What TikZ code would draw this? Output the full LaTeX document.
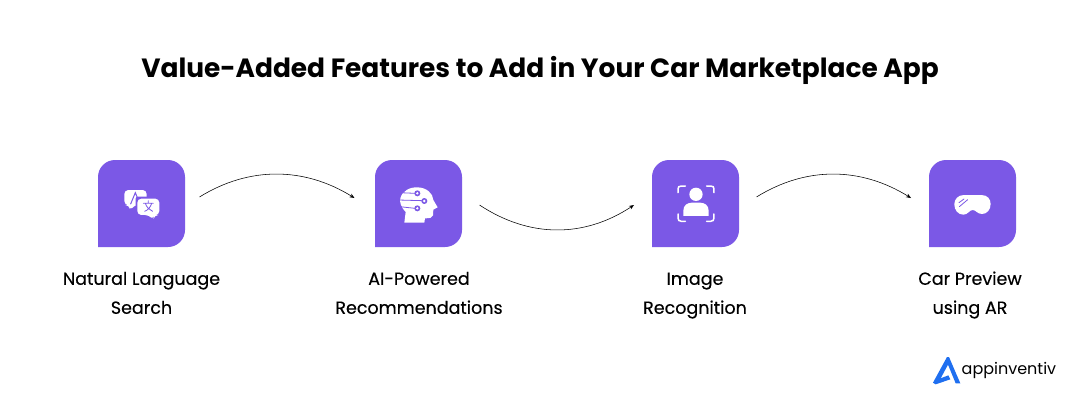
\documentclass[tikz,border=0pt]{standalone}
\usepackage{fontspec}
\setmainfont{Poppins}
\usetikzlibrary{arrows.meta}
\definecolor{brandpurple}{HTML}{7B58E6}
\definecolor{brandblue}{HTML}{1F6FF0}
\tikzset{
  x=1pt,y=-1pt,
  tile/.style={minimum size=87pt,inner sep=0pt,outer sep=0pt},
  lbl/.style={align=center,inner sep=0pt,font=\fontsize{17.5}{29}\selectfont\addfontfeature{FakeBold=0.3}},
  conn/.style={line width=0.55pt,-{Stealth[length=5pt,width=4pt]}},
  icon/.style={fill=white,draw=none},
  iconline/.style={draw=white,line width=1.5pt,line cap=round},
  cut/.style={draw=brandpurple,line width=0.8pt,line cap=round}
}
\newcommand{\tileshape}[1]{%
  \fill[brandpurple] (#1.south west) -- ([yshift=-17pt]#1.north west)
    .. controls ([yshift=-7.6pt]#1.north west) and ([xshift=7.6pt]#1.north west) .. ([xshift=17pt]#1.north west)
    -- ([xshift=-17pt]#1.north east)
    .. controls ([xshift=-7.6pt]#1.north east) and ([yshift=-7.6pt]#1.north east) .. ([yshift=-17pt]#1.north east)
    -- ([yshift=17pt]#1.south east)
    .. controls ([yshift=7.6pt]#1.south east) and ([xshift=-7.6pt]#1.south east) .. ([xshift=-17pt]#1.south east)
    -- cycle;}
\begin{document}
\begin{tikzpicture}
\useasboundingbox (0,0) rectangle (1080,408);
\fill[white] (0,0) rectangle (1080,408);
\node[inner sep=0pt,font=\fontsize{26.4}{32}\selectfont\bfseries] (title) at (540,70) {Value-Added Features to Add in Your Car Marketplace App};

\node[tile] (s1) at (141.5,203.5) {};
\node[tile] (s2) at (418.5,203.5) {};
\node[tile] (s3) at (695.5,203.5) {};
\node[tile] (s4) at (972.5,203.5) {};
\tileshape{s1}\tileshape{s2}\tileshape{s3}\tileshape{s4}

\node[lbl] (l1) at (141.5,293.5) {\strut Natural Language\\\strut Search};
\node[lbl] (l2) at (419,293.5) {\strut AI-Powered\\\strut Recommendations};
\node[lbl] (l3) at (695,293.5) {\strut Image\\\strut Recognition};
\node[lbl] (l4) at (970,293.5) {\strut Car Preview\\\strut using AR};

% connectors
\draw[conn] ([xshift=14.5pt,yshift=6.5pt]s1.east) .. controls +(50,-31) and +(-50,-31) .. ([xshift=-20.5pt,yshift=5.5pt]s2.west);
\draw[conn] ([xshift=17.5pt,yshift=-1.5pt]s2.east) .. controls +(50,33) and +(-50,33) .. ([xshift=-18pt,yshift=-1.5pt]s3.west);
\draw[conn] ([xshift=17.5pt,yshift=6.5pt]s3.east) .. controls +(50,-31) and +(-50,-31) .. ([xshift=-18pt,yshift=5.5pt]s4.west);

% icon 1 : translate bubbles
\begin{scope}[shift={(90,150)},x=0.3333pt,y=-0.3333pt]
  \fill[icon,rounded corners=4pt] (103,120) -- (170,120) -- (170,165) -- (133,165) -- (120,182) -- (118,165) -- (103,165) -- cycle;
  \draw[cut,line width=1pt] (122,162) -- (136,128) -- (150,162);
  \fill[brandpurple,rounded corners=2pt] (137,140) rectangle (214,201);
  \fill[icon,rounded corners=4pt] (142,146) -- (208,146) -- (208,195) -- (193,195) -- (190,209) -- (177,195) -- (142,195) -- cycle;
  \draw[cut] (160,160) -- (190,160) (175,152) -- (175,160) (164,184) .. controls (175,180) and (182,170) .. (185,160) (166,160) .. controls (170,172) and (178,180) .. (188,184);
\end{scope}

% icon 2 : AI head
\begin{scope}[shift={(365,150)},x=0.3333pt,y=-0.3333pt]
  \fill[icon] (118,218) -- (122,186) .. controls (108,172) and (103,155) .. (106,145)
     .. controls (112,122) and (135,111) .. (158,112)
     .. controls (185,113) and (204,130) .. (205,150)
     -- (218,172) -- (205,179) -- (204,196) .. controls (203,203) and (195,205) .. (180,205) -- (178,218) -- cycle;
  \draw[cut] (104,128) -- (150,130) (100,150) -- (171,152) (104,170) -- (150,175);
  \fill[brandpurple] (157,130) circle[radius=9] (178,153) circle[radius=9] (157,175) circle[radius=9];
  \fill[white] (157,130) circle[radius=4] (178,153) circle[radius=4] (157,175) circle[radius=4];
\end{scope}

% icon 3 : face scan
\begin{scope}[shift={(642,150)},x=0.3333pt,y=-0.3333pt]
  \fill[icon] (162,133) circle[radius=20];
  \fill[icon] (124,198) -- (124,182) .. controls (124,166) and (136,158) .. (150,158) -- (174,158) .. controls (188,158) and (200,166) .. (200,182) -- (200,198) -- cycle;
  \draw[iconline] (108,128) -- (108,117) .. controls (108,111) and (111,108) .. (118,108) -- (130,108);
  \draw[iconline] (194,108) -- (206,108) .. controls (213,108) and (216,111) .. (216,117) -- (216,128);
  \draw[iconline] (108,192) -- (108,204) .. controls (108,210) and (111,214) .. (118,214) -- (130,214);
  \draw[iconline] (194,214) -- (206,214) .. controls (213,214) and (216,210) .. (216,204) -- (216,192);
\end{scope}

% icon 4 : AR headset
\begin{scope}[shift={(920,150)},x=0.3333pt,y=-0.3333pt]
  \fill[icon] (132,135) -- (184,135) .. controls (203,135) and (212,148) .. (212,162)
    .. controls (212,180) and (200,192) .. (186,192)
    .. controls (172,192) and (168,180) .. (158,180)
    .. controls (148,180) and (144,194) .. (130,194)
    .. controls (114,194) and (103,180) .. (103,163)
    .. controls (103,148) and (114,135) .. (132,135) -- cycle;
  \draw[cut] (117,158) -- (132,147) (118,170) -- (143,149);
\end{scope}

% logo
\begin{scope}[shift={(925,350)},x=0.3333pt,y=-0.3333pt]
  \fill[brandblue] (66,21) -- (72,21) -- (106,100) -- (92,100) -- (69,44) -- (47,85) -- (70,76) -- (76,88) -- (32,103) -- (24,98) -- cycle;
\end{scope}
\node[inner sep=0pt,anchor=base west,font=\fontsize{16}{24}\selectfont] (logotext) at (961.5,374.5) {appinventiv};
\end{tikzpicture}
\end{document}
